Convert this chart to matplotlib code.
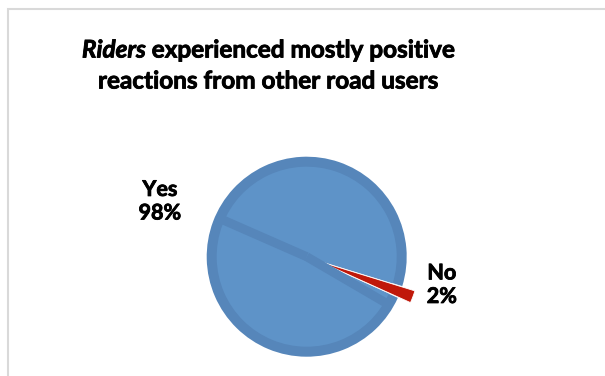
import numpy as np
import matplotlib.pyplot as plt
import matplotlib.patches as mpatches
import matplotlib.patheffects as pe

# survey answers
labels = ['Yes', 'No']
shares = [98, 2]

ring_col = '#5686BA'
fill_col = '#5E93C8'
red_col = '#C0180A'
font = 'Lato'
title_size = 17.5
# thicken Lato bold a touch
heavy = [pe.withStroke(linewidth=0.6, foreground='black')]

W, H = 605, 376
fig = plt.figure(figsize=(W / 100, H / 100), dpi=100)
ax = fig.add_axes([0, 0, 1, 1])
ax.set_aspect('equal')
ax.axis('off')

# chart frame
fig.add_artist(mpatches.Rectangle((8 / W, -0.05), 1.1, (H - 9) / H + 0.05,
                                  transform=fig.transFigure, fill=False,
                                  edgecolor='#D9D9D9', linewidth=1.5))

ctr = (3.067, (H - 256.7) / 100)
start = -17.1

wedges, _ = ax.pie(shares, startangle=start, counterclock=True, center=ctr,
                   radius=1.0, colors=[ring_col, red_col],
                   explode=[0, 0.135], frame=True,
                   wedgeprops=dict(linewidth=0))
wedges[1].set_edgecolor('white')
wedges[1].set_linewidth(0.6)

# lighter inner face of the big slice
t1, t2 = wedges[0].theta1, wedges[0].theta2
ax.add_patch(mpatches.Wedge(ctr, 0.9, t1, t2, facecolor=fill_col, linewidth=0))

# darker bevel bands running out from the centre
def band(angle, width=0.09, r=0.92):
    a = np.deg2rad(angle)
    d = np.array([np.cos(a), np.sin(a)])
    n = np.array([-d[1], d[0]]) * width / 2
    c = np.array(ctr)
    pts = [c + n, c + d * r + n, c + d * r - n, c - n]
    ax.add_patch(mpatches.Polygon(pts, closed=True, facecolor=ring_col,
                                  linewidth=0))

mid_no = (wedges[1].theta1 + wedges[1].theta2) / 2
band(mid_no + 180 - 3)
band(wedges[1].theta1 - 6)

ax.set_xlim(0, W / 100)
ax.set_ylim(0, H / 100)

# title, first word in italics
cx = 268 / W
y1, y2 = 1 - 50 / H, 1 - 81 / H
p1 = fig.text(0, y1, 'Riders', ha='left', va='center', fontsize=title_size,
              fontweight='bold', fontstyle='italic', family=font,
              path_effects=heavy)
p2 = fig.text(0, y1, ' experienced mostly positive', ha='left', va='center',
              fontsize=title_size, fontweight='bold', family=font,
              path_effects=heavy)
fig.canvas.draw()
w1 = p1.get_window_extent().width / W
w2 = p2.get_window_extent().width / W
x0 = cx - (w1 + w2) / 2
p1.set_x(x0)
p2.set_x(x0 + w1)
fig.text(cx, y2, 'reactions from other road users', ha='center', va='center',
         fontsize=title_size, fontweight='bold', family=font,
         path_effects=heavy)

# data labels
lab_pos = {'Yes': (1.57, 0.0), 'No': (1.38, 9.0)}
for w, lab, val in zip(wedges, labels, shares):
    m = (w.theta1 + w.theta2) / 2
    dist, dang = lab_pos[lab]
    a = np.deg2rad(m + dang)
    ax.text(ctr[0] + dist * np.cos(a), ctr[1] + dist * np.sin(a),
            f'{lab}\n{val}%', ha='center', va='center', fontsize=15.5,
            fontweight='bold', family=font, linespacing=1.15,
            path_effects=heavy)

fig.savefig('out.png', dpi=100, facecolor='white')
